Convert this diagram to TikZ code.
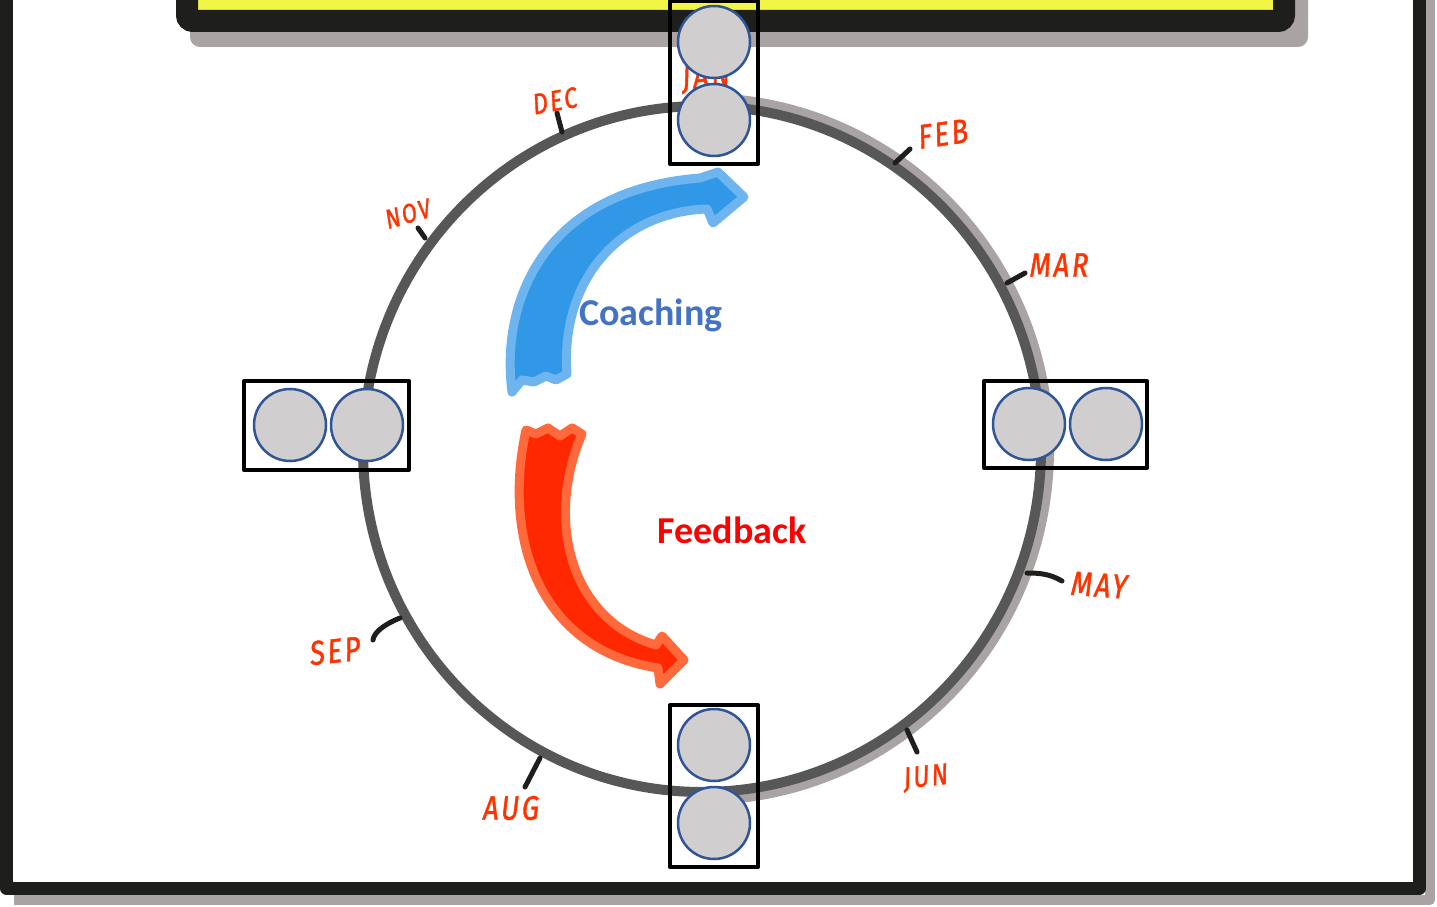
\documentclass[tikz,border=0pt]{standalone}
\usepackage{fontspec}
\newfontfamily\calibri{Carlito}
\newfontfamily\hand[FakeStretch=0.8,FakeSlant=0.12,FakeBold=1.2,LetterSpace=8]{Fira Sans}
\usetikzlibrary{positioning}
\definecolor{ringgrey}{RGB}{87,87,87}
\definecolor{shadowgrey}{RGB}{170,163,163}
\definecolor{frameblack}{RGB}{30,30,28}
\definecolor{banneryellow}{RGB}{240,245,70}
\definecolor{monthred}{RGB}{255,51,0}
\definecolor{discgrey}{RGB}{208,206,206}
\definecolor{discblue}{RGB}{47,85,151}
\definecolor{coachblue}{RGB}{68,114,196}
\definecolor{arrowblue}{RGB}{48,152,230}
\definecolor{arrowbluelight}{RGB}{110,180,238}
\definecolor{arrowred}{RGB}{255,40,0}
\definecolor{arrowredlight}{RGB}{255,105,60}
\begin{document}
\begin{tikzpicture}[x=1pt,y=1pt,
  slot/.style={draw=black,line width=4,inner sep=0,line join=round},
  disc/.style={circle,draw=discblue,fill=discgrey,line width=2.5,inner sep=0,minimum size=72},
  month/.style={text=monthred,font=\hand\fontsize{#1}{#1}\selectfont,inner sep=0},
  month/.default=34,
  tick/.style={draw=frameblack,line width=5,line cap=round},
  bigword/.style={font=\calibri\bfseries\fontsize{38}{38}\selectfont}]
\useasboundingbox (0,0) rectangle (1437,906);

% page frame and top banner
\draw[shadowgrey,line width=10,line join=round] (1430,906) -- (1430,6) -- (14,6);
\draw[frameblack,line width=13,line join=round] (6.5,906) -- (6.5,17.5) -- (1419,17.5) -- (1419,906);
\fill[shadowgrey,rounded corners=10] (190,859) rectangle (1308,950);
\fill[banneryellow] (187,885) rectangle (1284,950);
\draw[frameblack,line width=22,rounded corners=6] (187,950) -- (187,885) -- (1284,885) -- (1284,950);

% year ring
\coordinate (hub) at (702,457);
\draw[shadowgrey,line width=10] ([shift={(88:347 and 351)}]hub) arc[start angle=88,end angle=-86,x radius=347,y radius=351];
\draw[ringgrey,line width=10] (hub) ellipse[x radius=339,y radius=343];

\draw[tick] (557,793) -- (562,774);
\draw[tick] (418,678) -- (425,668);
\draw[tick] (895,743) -- (910,757);
\draw[tick] (1007,623) -- (1025,633);
\draw[tick] (1027,333) .. controls (1040,333) and (1050,332) .. (1062,325);
\draw[tick] (907,176) -- (917,154);
\draw[tick] (540,148) -- (525,119);
\draw[tick] (400,288) .. controls (385,282) and (374,274) .. (373,266);

\node[month,rotate=5] (lbljan) at (705,828) {JAN};
\node[month,rotate=8] (lblfeb) at (942,772) {FEB};
\node[month] (lblmar) at (1058,641) {MAR};
\node[month,rotate=-4] (lblmay) at (1098,321) {MAY};
\node[month=30,rotate=6] (lbljun) at (925,128) {JUN};
\node[month] (lblaug) at (510,98) {AUG};
\node[month,rotate=6] (lblsep) at (334,255) {SEP};
\node[month=27,rotate=16] (lblnov) at (407,692) {NOV};
\node[month=29,rotate=10] (lbldec) at (554,805) {DEC};

% the two cycle arrows
\filldraw[fill=arrowblue,draw=arrowbluelight,line width=9,line join=round]
  (512,514) .. controls (500,606) and (545,716) .. (700,728) -- (718,734) -- (744,709)
  -- (713,683) -- (707,697) .. controls (620,694) and (560,626) .. (567,532)
  -- (556,526) -- (546,530) -- (534,524) -- (522,526) -- cycle;
\filldraw[fill=arrowred,draw=arrowredlight,line width=9,line join=round]
  (526,476) .. controls (502,366) and (540,256) .. (658,238) -- (660,222) -- (684,246)
  -- (662,270) -- (656,261) .. controls (570,286) and (545,386) .. (582,472)
  -- (572,478) -- (560,470) -- (548,478) -- (536,472) -- cycle;

\node[bigword,text=coachblue] (coaching) at (651,591) {Coaching};
\node[bigword,text=red] (feedback) at (732,376) {Feedback};

% quarter slots
\node[slot,minimum width=88,minimum height=163] (janbox) at (714,823.5) {};
\node[disc] (janA) at (714,864) {};
\node[disc,below=3.5pt of janA] (janB) {};

\node[slot,minimum width=163,minimum height=87] (aprbox) at (1065.5,481.5) {};
\node[disc] (aprA) at (1029,482) {};
\node[disc,right=2.5pt of aprA] (aprB) {};

\node[slot,minimum width=88,minimum height=162] (julbox) at (714,120) {};
\node[disc] (julA) at (714,161) {};
\node[disc,below=3.5pt of julA] (julB) {};

\node[slot,minimum width=165,minimum height=89] (octbox) at (326.5,480.5) {};
\node[disc] (octA) at (290,481) {};
\node[disc,right=2.5pt of octA] (octB) {};
\end{tikzpicture}
\end{document}
